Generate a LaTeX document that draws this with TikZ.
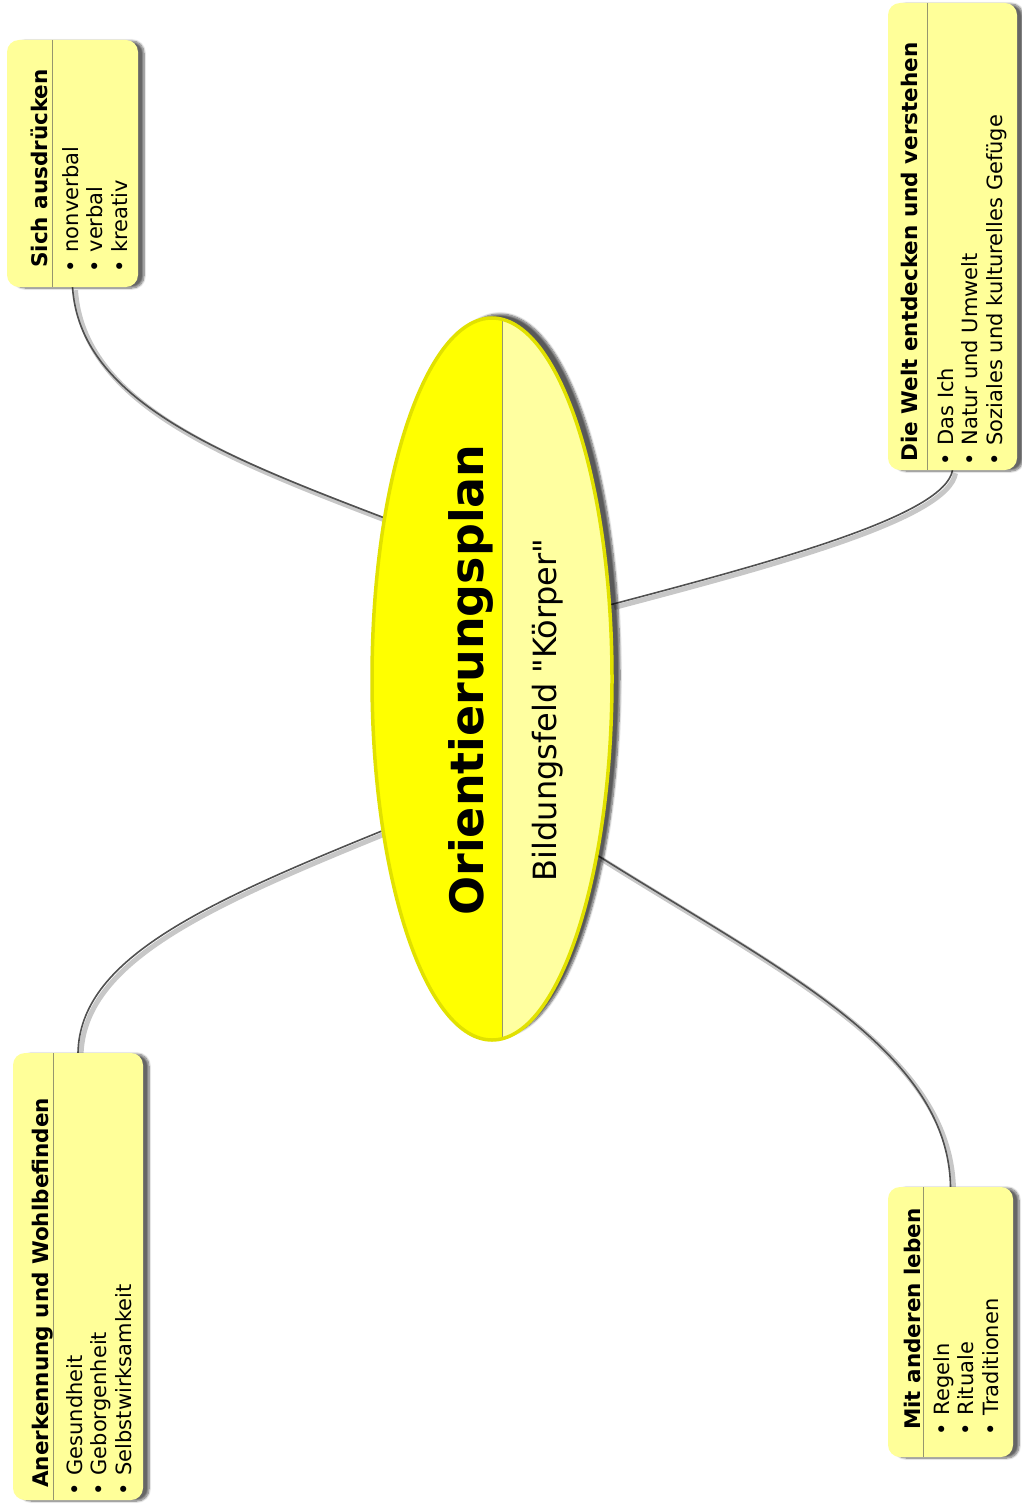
\documentclass[tikz,border=0pt]{standalone}
\usepackage{fontspec}
\setmainfont{DejaVu Sans}[Ligatures=TeXOff]
\usetikzlibrary{shapes.geometric,shadows.blur,backgrounds}

\definecolor{boxyellow}{RGB}{255,255,153}
\definecolor{titleyellow}{RGB}{255,255,0}
\definecolor{paleyellow}{RGB}{255,255,160}
\definecolor{ellborder}{RGB}{225,225,0}
\definecolor{divgray}{RGB}{150,150,110}
\definecolor{branchgray}{RGB}{80,80,80}

\begin{document}
\begin{tikzpicture}[x=1pt,y=-1pt,
    topicbox/.style={rectangle, rounded corners=12pt, fill=boxyellow, inner sep=0pt,
      blur shadow={shadow xshift=6pt, shadow yshift=-1pt, shadow blur steps=8, shadow opacity=60}},
    headtext/.style={rotate=90, anchor=base west, inner sep=0pt, font=\bfseries\fontsize{21.5}{26}\selectfont},
    itemtext/.style={rotate=90, anchor=base west, inner sep=0pt, font=\fontsize{21}{24.5}\selectfont},
    branch/.style={draw=branchgray, line width=1.6pt,
      preaction={draw=black, opacity=0.22, line width=5pt, transform canvas={xshift=3pt,yshift=-3pt}}},
    divline/.style={draw=divgray, line width=0.6pt}]

  \useasboundingbox (0,0) rectangle (1021,1506);

  % central topic
  \node[ellipse, draw=ellborder, line width=3.5pt, fill=paleyellow, inner sep=0pt,
        minimum width=240pt, minimum height=722pt,
        blur shadow={shadow xshift=8pt, shadow yshift=4pt, shadow blur steps=8, shadow opacity=65},
        path picture={
          \fill[titleyellow] (path picture bounding box.north west) rectangle ([xshift=10pt]path picture bounding box.south);
          \draw[divgray, line width=0.8pt] ([xshift=10pt]path picture bounding box.north) -- ([xshift=10pt]path picture bounding box.south);
        }] (main) at (492, 679) {};
  \node[rotate=90, inner sep=0pt, font=\bfseries\fontsize{46}{50}\selectfont] (title) at (471, 680) {Orientierungsplan};
  \node[rotate=90, inner sep=0pt, font=\fontsize{32}{36}\selectfont] (subtitle) at (548, 710) {Bildungsfeld "Körper"};

  % topic boxes
  \node[topicbox, minimum width=131pt, minimum height=247pt] (b1) at (72.5, 163.5) {};
  \node[topicbox, minimum width=129pt, minimum height=467pt] (b2) at (952.5, 236.5) {};
  \node[topicbox, minimum width=130pt, minimum height=447pt] (b3) at (78, 1276.5) {};
  \node[topicbox, minimum width=125pt, minimum height=270pt] (b4) at (950.5, 1322) {};

  % dividers
  \draw[divline] (52, 40) -- (52, 287);
  \draw[divline] (927, 3) -- (927, 470);
  \draw[divline] (53, 1053) -- (53, 1500);
  \draw[divline] (923, 1187) -- (923, 1457);

  % headings
  \node[headtext] (h1) at (47, 268) {Sich ausdrücken};
  \node[headtext] (h2) at (917, 462) {Die Welt entdecken und verstehen};
  \node[headtext] (h3) at (48, 1488) {Anerkennung und Wohlbefinden};
  \node[headtext] (h4) at (920, 1430) {Mit anderen leben};

  % items
  \node[itemtext] (l1) at (78, 273) {\begin{tabular}[t]{@{}l@{\hspace{8pt}}l@{}}
    \textbullet & nonverbal\\ \textbullet & verbal\\ \textbullet & kreativ\end{tabular}};
  \node[itemtext] (l2) at (953, 466) {\begin{tabular}[t]{@{}l@{\hspace{8pt}}l@{}}
    \textbullet & Das Ich\\ \textbullet & Natur und Umwelt\\ \textbullet & Soziales und kulturelles Gefüge\end{tabular}};
  \node[itemtext] (l3) at (82, 1496) {\begin{tabular}[t]{@{}l@{\hspace{8pt}}l@{}}
    \textbullet & Gesundheit\\ \textbullet & Geborgenheit\\ \textbullet & Selbstwirksamkeit\end{tabular}};
  \node[itemtext] (l4) at (949, 1436) {\begin{tabular}[t]{@{}l@{\hspace{8pt}}l@{}}
    \textbullet & Regeln\\ \textbullet & Rituale\\ \textbullet & Traditionen\end{tabular}};

  % branches
  \begin{pgfonlayer}{background}
    \draw[branch] (b1.south) .. controls (80, 400) and (220, 455) .. (main.124.8);
    \draw[branch] (main.32) .. controls (780, 560) and (945, 515) .. (b2.south);
    \draw[branch] (main.234) .. controls (200, 905) and (80, 960) .. (b3.north);
    \draw[branch] (main.301.7) .. controls (780, 970) and (948, 1050) .. (b4.north);
  \end{pgfonlayer}
\end{tikzpicture}
\end{document}
